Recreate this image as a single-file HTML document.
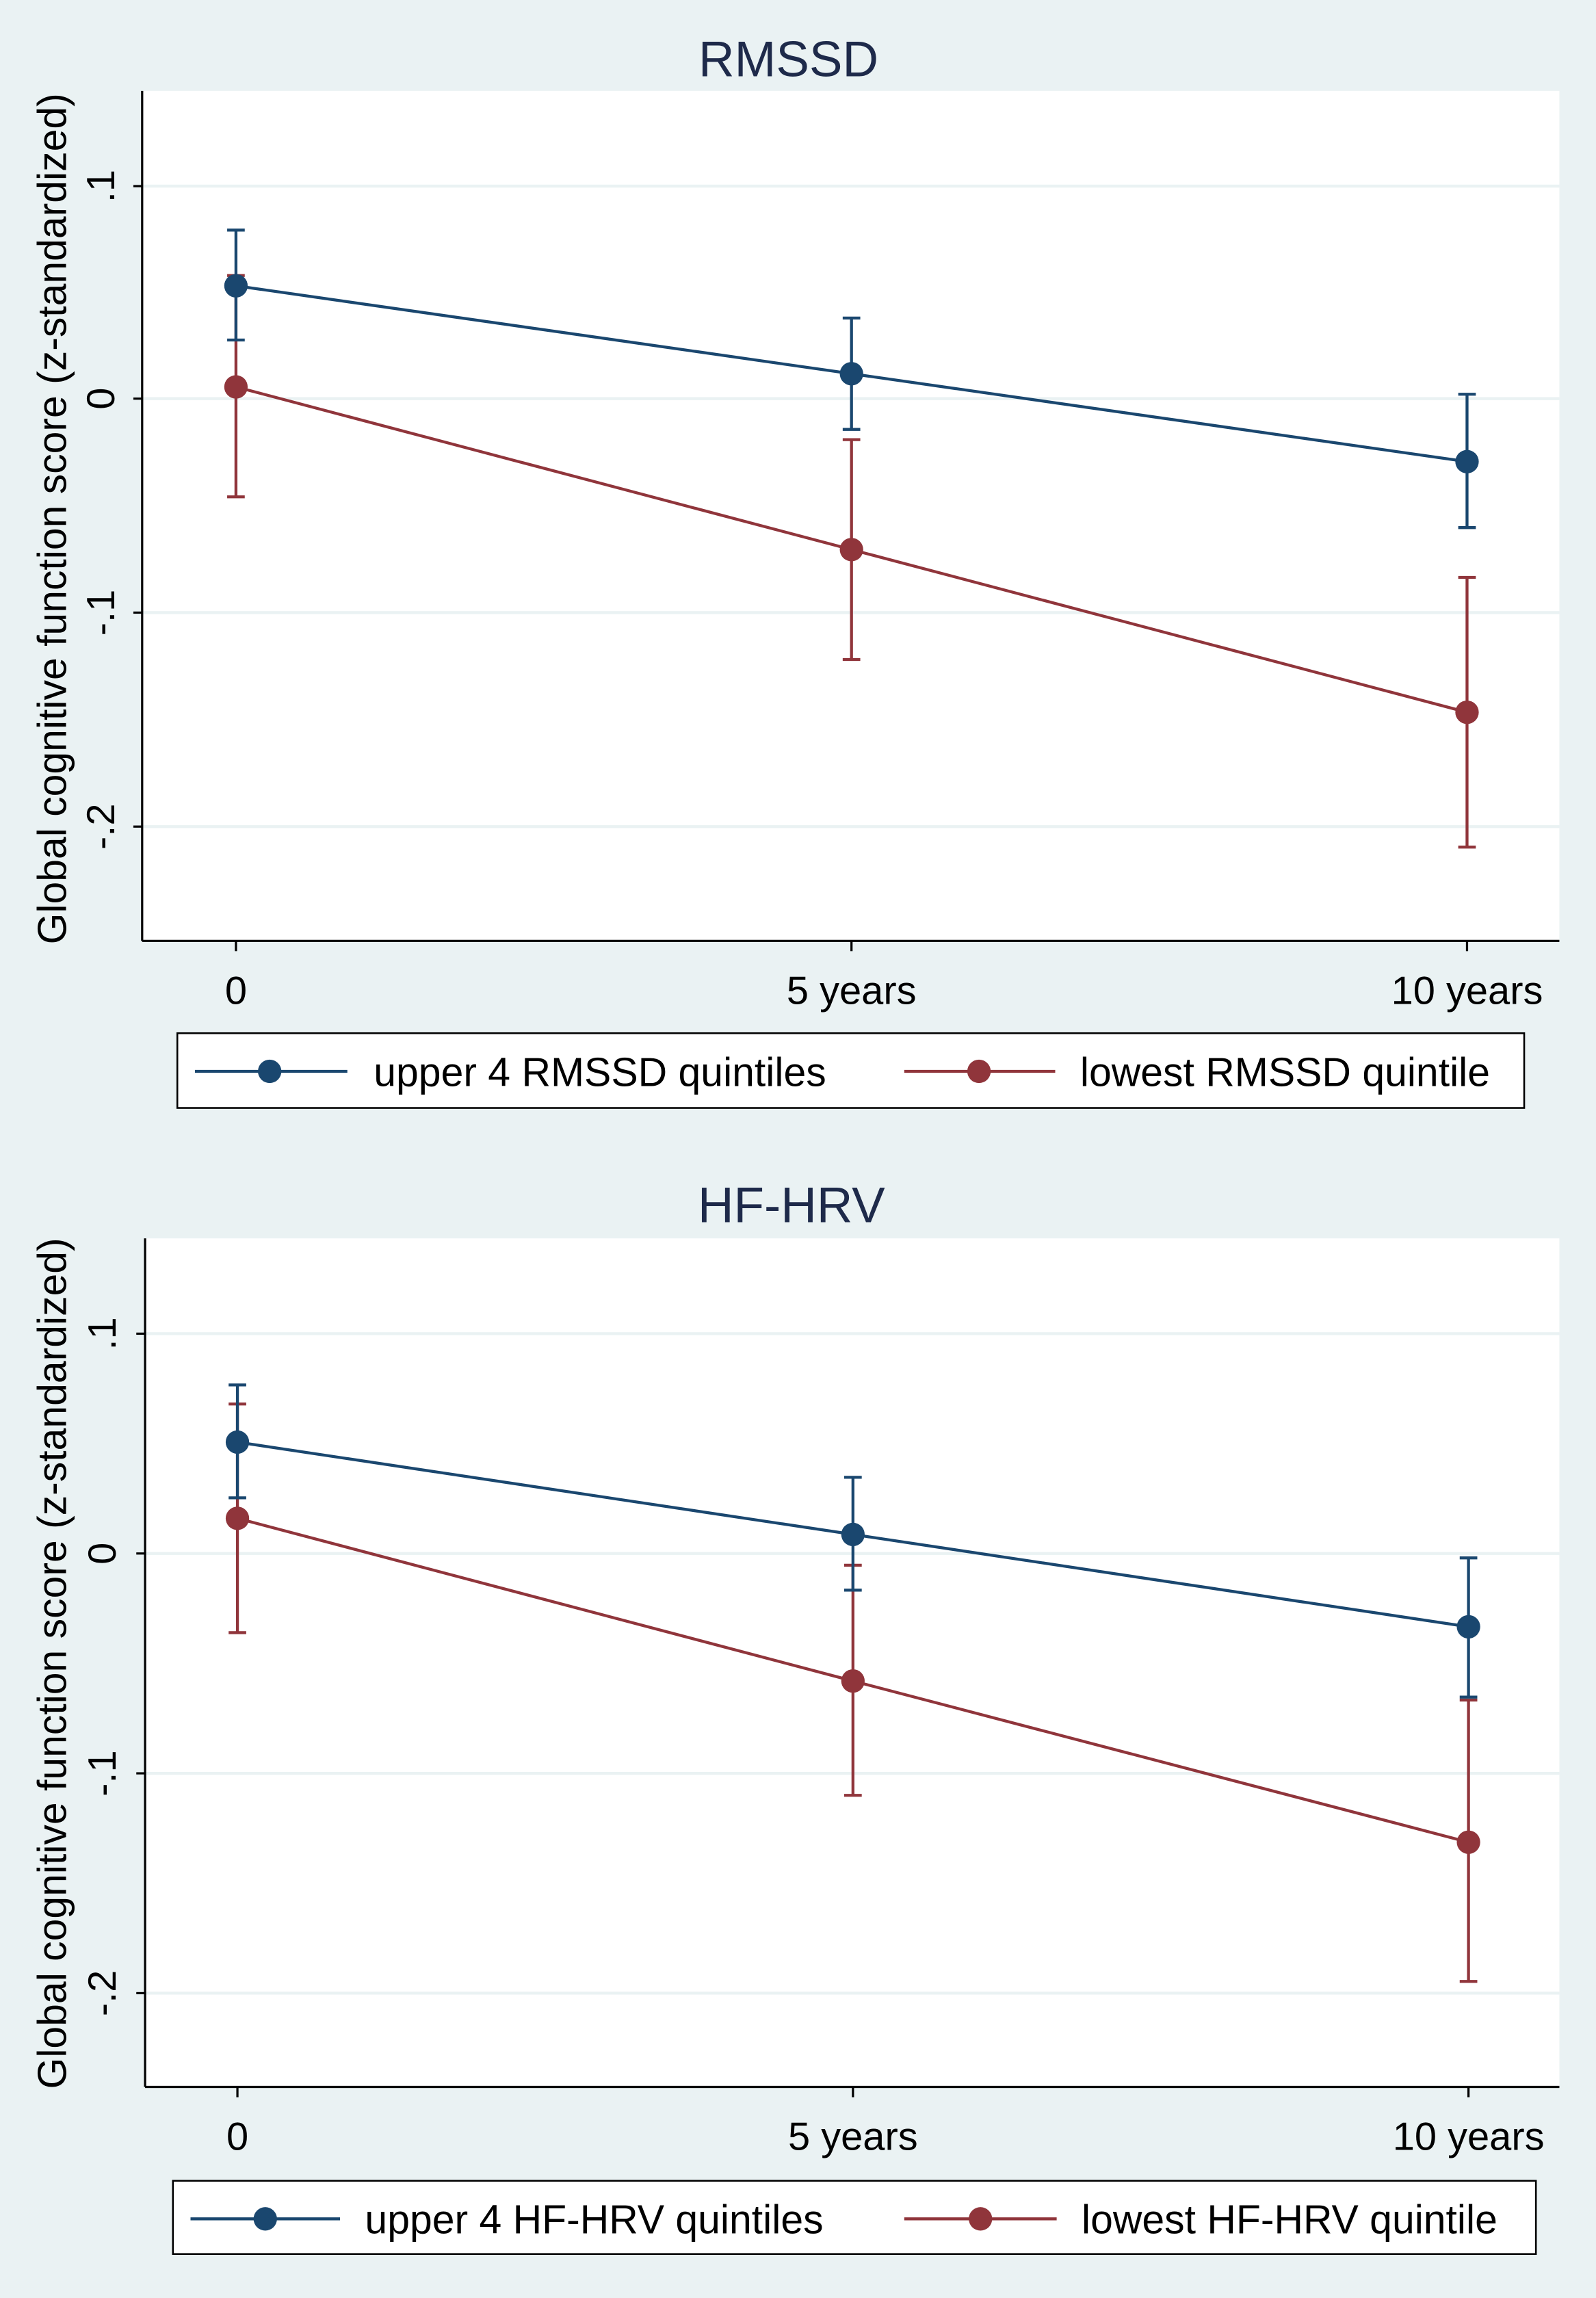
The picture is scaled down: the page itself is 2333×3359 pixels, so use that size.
<!DOCTYPE html>
<html><head><meta charset="utf-8"><style>html,body{margin:0;padding:0;background:#eaf2f3}svg{display:block}</style></head>
<body>
<svg width="2333" height="3359" viewBox="0 0 1089 1568" preserveAspectRatio="none" xmlns="http://www.w3.org/2000/svg" font-family="Liberation Sans, Arial, sans-serif">
<rect width="1089" height="1568" fill="#eaf2f3"/>
<!-- TOP -->
<g>
<text x="538" y="52" font-size="34" text-anchor="middle" fill="#1e2a4a">RMSSD</text>
<rect x="97" y="62" width="967" height="580" fill="#fff"/>
<g stroke="#eaf2f3" stroke-width="2"><line x1="97" x2="1064" y1="127" y2="127"/><line x1="97" x2="1064" y1="272" y2="272"/><line x1="97" x2="1064" y1="418" y2="418"/><line x1="97" x2="1064" y1="564" y2="564"/></g>
<g stroke="#000" stroke-width="1.5"><line x1="97" y1="62" x2="97" y2="642"/><line x1="97" y1="642" x2="1064" y2="642"/><line x1="91" y1="127" x2="97" y2="127"/><line x1="91" y1="272" x2="97" y2="272"/><line x1="91" y1="418" x2="97" y2="418"/><line x1="91" y1="564" x2="97" y2="564"/><line x1="161" y1="642" x2="161" y2="649"/><line x1="581" y1="642" x2="581" y2="649"/><line x1="1001" y1="642" x2="1001" y2="649"/></g>
<g font-size="27" fill="#000" text-anchor="middle">
<text transform="translate(78,127) rotate(-90)">.1</text><text transform="translate(78,272) rotate(-90)">0</text><text transform="translate(78,418) rotate(-90)">-.1</text><text transform="translate(78,564) rotate(-90)">-.2</text>
<text x="161" y="685">0</text><text x="581" y="685">5 years</text><text x="1001" y="685">10 years</text>
<text transform="translate(45,354) rotate(-90)" font-size="27.5">Global cognitive function score (z-standardized)</text>
</g>
<g stroke="#90353b" stroke-width="2" fill="none">
<polyline points="161,264 581,375 1001,486"/>
<line x1="161" y1="188" x2="161" y2="339"/><line x1="155" y1="188" x2="167" y2="188"/><line x1="155" y1="339" x2="167" y2="339"/>
<line x1="581" y1="300" x2="581" y2="450"/><line x1="575" y1="300" x2="587" y2="300"/><line x1="575" y1="450" x2="587" y2="450"/>
<line x1="1001" y1="394" x2="1001" y2="578"/><line x1="995" y1="394" x2="1007" y2="394"/><line x1="995" y1="578" x2="1007" y2="578"/>
</g>
<g fill="#90353b"><circle cx="161" cy="264" r="8"/><circle cx="581" cy="375" r="8"/><circle cx="1001" cy="486" r="8"/></g>
<g stroke="#1a476f" stroke-width="2" fill="none">
<polyline points="161,195 581,255 1001,315"/>
<line x1="161" y1="157" x2="161" y2="232"/><line x1="155" y1="157" x2="167" y2="157"/><line x1="155" y1="232" x2="167" y2="232"/>
<line x1="581" y1="217" x2="581" y2="293"/><line x1="575" y1="217" x2="587" y2="217"/><line x1="575" y1="293" x2="587" y2="293"/>
<line x1="1001" y1="269" x2="1001" y2="360"/><line x1="995" y1="269" x2="1007" y2="269"/><line x1="995" y1="360" x2="1007" y2="360"/>
</g>
<g fill="#1a476f"><circle cx="161" cy="195" r="8"/><circle cx="581" cy="255" r="8"/><circle cx="1001" cy="315" r="8"/></g>
<rect x="121" y="705" width="919" height="51" fill="#fff" stroke="#000" stroke-width="1.2"/>
<line x1="133" y1="731" x2="237" y2="731" stroke="#1a476f" stroke-width="2"/><circle cx="184" cy="731" r="8" fill="#1a476f"/>
<text x="255" y="741" font-size="27.5">upper 4 RMSSD quintiles</text>
<line x1="617" y1="731" x2="720" y2="731" stroke="#90353b" stroke-width="2"/><circle cx="668" cy="731" r="8" fill="#90353b"/>
<text x="737" y="741" font-size="27.5">lowest RMSSD quintile</text>
</g>
<!-- BOTTOM -->
<g>
<text x="540" y="834" font-size="34" text-anchor="middle" fill="#1e2a4a">HF-HRV</text>
<rect x="99" y="845" width="965" height="579" fill="#fff"/>
<g stroke="#eaf2f3" stroke-width="2"><line x1="99" x2="1064" y1="910" y2="910"/><line x1="99" x2="1064" y1="1060" y2="1060"/><line x1="99" x2="1064" y1="1210" y2="1210"/><line x1="99" x2="1064" y1="1360" y2="1360"/></g>
<g stroke="#000" stroke-width="1.5"><line x1="99" y1="845" x2="99" y2="1424"/><line x1="99" y1="1424" x2="1064" y2="1424"/><line x1="93" y1="910" x2="99" y2="910"/><line x1="93" y1="1060" x2="99" y2="1060"/><line x1="93" y1="1210" x2="99" y2="1210"/><line x1="93" y1="1360" x2="99" y2="1360"/><line x1="162" y1="1424" x2="162" y2="1431"/><line x1="582" y1="1424" x2="582" y2="1431"/><line x1="1002" y1="1424" x2="1002" y2="1431"/></g>
<g font-size="27" fill="#000" text-anchor="middle">
<text transform="translate(79,910) rotate(-90)">.1</text><text transform="translate(79,1060) rotate(-90)">0</text><text transform="translate(79,1210) rotate(-90)">-.1</text><text transform="translate(79,1360) rotate(-90)">-.2</text>
<text x="162" y="1467">0</text><text x="582" y="1467">5 years</text><text x="1002" y="1467">10 years</text>
<text transform="translate(45,1135) rotate(-90)" font-size="27.5">Global cognitive function score (z-standardized)</text>
</g>
<g stroke="#90353b" stroke-width="2" fill="none">
<polyline points="162,1036 582,1147 1002,1257"/>
<line x1="162" y1="958" x2="162" y2="1114"/><line x1="156" y1="958" x2="168" y2="958"/><line x1="156" y1="1114" x2="168" y2="1114"/>
<line x1="582" y1="1068" x2="582" y2="1225"/><line x1="576" y1="1068" x2="588" y2="1068"/><line x1="576" y1="1225" x2="588" y2="1225"/>
<line x1="1002" y1="1160" x2="1002" y2="1352"/><line x1="996" y1="1160" x2="1008" y2="1160"/><line x1="996" y1="1352" x2="1008" y2="1352"/>
</g>
<g fill="#90353b"><circle cx="162" cy="1036" r="8"/><circle cx="582" cy="1147" r="8"/><circle cx="1002" cy="1257" r="8"/></g>
<g stroke="#1a476f" stroke-width="2" fill="none">
<polyline points="162,984 582,1047 1002,1110"/>
<line x1="162" y1="945" x2="162" y2="1022"/><line x1="156" y1="945" x2="168" y2="945"/><line x1="156" y1="1022" x2="168" y2="1022"/>
<line x1="582" y1="1008" x2="582" y2="1085"/><line x1="576" y1="1008" x2="588" y2="1008"/><line x1="576" y1="1085" x2="588" y2="1085"/>
<line x1="1002" y1="1063" x2="1002" y2="1158"/><line x1="996" y1="1063" x2="1008" y2="1063"/><line x1="996" y1="1158" x2="1008" y2="1158"/>
</g>
<g fill="#1a476f"><circle cx="162" cy="984" r="8"/><circle cx="582" cy="1047" r="8"/><circle cx="1002" cy="1110" r="8"/></g>
<rect x="118" y="1488" width="930" height="50" fill="#fff" stroke="#000" stroke-width="1.2"/>
<line x1="130" y1="1514" x2="232" y2="1514" stroke="#1a476f" stroke-width="2"/><circle cx="181" cy="1514" r="8" fill="#1a476f"/>
<text x="249" y="1524" font-size="27.5">upper 4 HF-HRV quintiles</text>
<line x1="617" y1="1514" x2="721" y2="1514" stroke="#90353b" stroke-width="2"/><circle cx="669" cy="1514" r="8" fill="#90353b"/>
<text x="738" y="1524" font-size="27.5">lowest HF-HRV quintile</text>
</g>
</svg>
</body></html>
